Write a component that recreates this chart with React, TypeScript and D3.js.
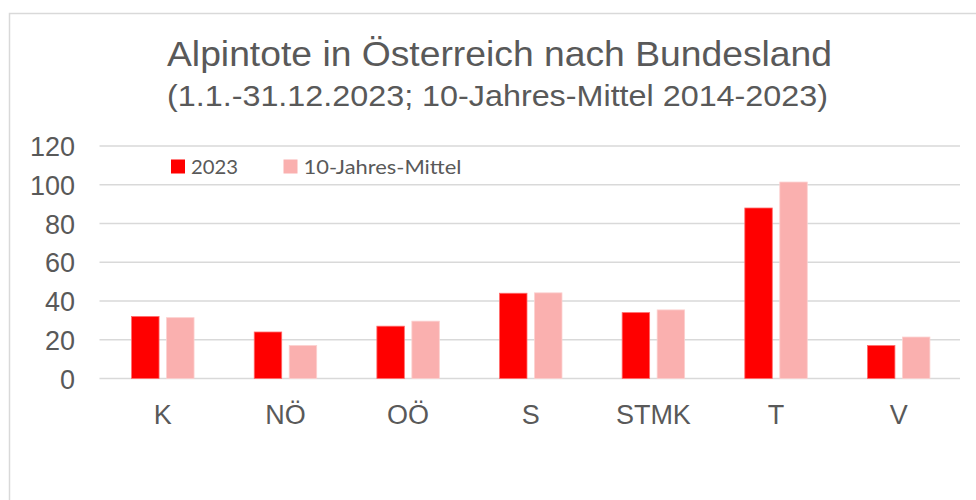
import { useEffect, useRef } from "react";
import * as d3 from "d3";

// Bundesländer (x categories)
const states = ["K", "NÖ", "OÖ", "S", "STMK", "T", "V"];
const seriesNames = ["2023", "10-Jahres-Mittel"];
const values2023 = [32, 24, 27, 44, 34, 88, 17];
const valuesMean = [31.4, 17, 29.6, 44.2, 35.4, 101.4, 21.4];
const yTicks = [0, 20, 40, 60, 80, 100, 120];
const colors = ["#ff0000", "#fab0af"];

const title = "Alpintote in Österreich nach Bundesland";
const subtitle = "(1.1.-31.12.2023; 10-Jahres-Mittel 2014-2023)";

export default function App() {
    const svgRef = useRef<SVGSVGElement | null>(null);

    useEffect(() => {
        const width = 976;
        const height = 500;
        const svg = d3.select(svgRef.current!).attr("width", width).attr("height", height);
        svg.selectAll("*").remove();

        const font = "'Liberation Sans', Arial, sans-serif";
        const textColor = "#595959";

        // chart area border (runs off the right and bottom edge)
        svg.append("rect")
            .attr("x", 9.5)
            .attr("y", 13.5)
            .attr("width", 1000)
            .attr("height", 520)
            .attr("fill", "#fff")
            .attr("stroke", "#d9d9d9")
            .attr("stroke-width", 1.5);

        // plot area
        const left = 101.5, right = 960, top = 146, bottom = 378.5;

        const x0 = d3.scaleBand<string>().domain(states).range([left, right]).padding(0);
        const x1 = d3.scaleBand<string>()
            .domain(seriesNames)
            .range([0, x0.bandwidth()])
            .paddingInner(0.215)
            .paddingOuter(0.86);
        const y = d3.scaleLinear().domain([0, 120]).range([bottom, top]);

        // gridlines
        svg.append("g")
            .selectAll("line")
            .data(yTicks)
            .enter()
            .append("line")
            .attr("x1", left - 2)
            .attr("x2", right)
            .attr("y1", (d) => y(d))
            .attr("y2", (d) => y(d))
            .attr("stroke", "#d9d9d9")
            .attr("stroke-width", 1.5);

        // y tick labels
        svg.append("g")
            .selectAll("text")
            .data(yTicks)
            .enter()
            .append("text")
            .attr("x", 75)
            .attr("y", (d) => y(d) + 10)
            .attr("text-anchor", "end")
            .style("font-family", font)
            .style("font-size", "27px")
            .style("fill", textColor)
            .text((d) => d);

        // bars
        const series = [values2023, valuesMean];
        series.forEach((vals, si) => {
            svg.append("g")
                .selectAll("rect")
                .data(vals)
                .enter()
                .append("rect")
                .attr("x", (_, i) => x0(states[i])! + x1(seriesNames[si])!)
                .attr("y", (d) => y(d))
                .attr("width", x1.bandwidth())
                .attr("height", (d) => bottom - y(d))
                .attr("fill", colors[si])
                .attr("stroke", si === 0 ? "#ff6b6b" : "#fcd0cf")
                .attr("stroke-width", 0.8);
        });

        // x labels
        svg.append("g")
            .selectAll("text")
            .data(states)
            .enter()
            .append("text")
            .attr("x", (d) => x0(d)! + x0.bandwidth() / 2)
            .attr("y", 424)
            .attr("text-anchor", "middle")
            .style("font-family", font)
            .style("font-size", "27px")
            .style("fill", textColor)
            .text((d) => d);

        // title + subtitle (stretched a little to the reference width)
        svg.append("text")
            .attr("x", 167)
            .attr("y", 66)
            .attr("textLength", 665)
            .attr("lengthAdjust", "spacingAndGlyphs")
            .style("font-family", font)
            .style("font-size", "34.5px")
            .style("fill", textColor)
            .text(title);

        svg.append("text")
            .attr("x", 167)
            .attr("y", 106)
            .attr("textLength", 661)
            .attr("lengthAdjust", "spacingAndGlyphs")
            .style("font-family", font)
            .style("font-size", "30px")
            .style("fill", textColor)
            .text(subtitle);

        // legend
        const legendX = [171, 283.5];
        const legendW = [47, 158];
        const legend = svg.append("g");
        seriesNames.forEach((name, i) => {
            legend.append("rect")
                .attr("x", legendX[i])
                .attr("y", 159.5)
                .attr("width", 14)
                .attr("height", 14)
                .attr("fill", colors[i]);
            legend.append("text")
                .attr("x", legendX[i] + 20)
                .attr("y", 173.5)
                .attr("textLength", legendW[i])
                .attr("lengthAdjust", "spacingAndGlyphs")
                .style("font-family", "Lato, 'Open Sans', sans-serif")
                .style("font-size", "20px")
                .style("fill", textColor)
                .text(name);
        });
    }, []);

    return <svg ref={svgRef} style={{ position: "absolute", left: 0, top: 0 }} />;
}
